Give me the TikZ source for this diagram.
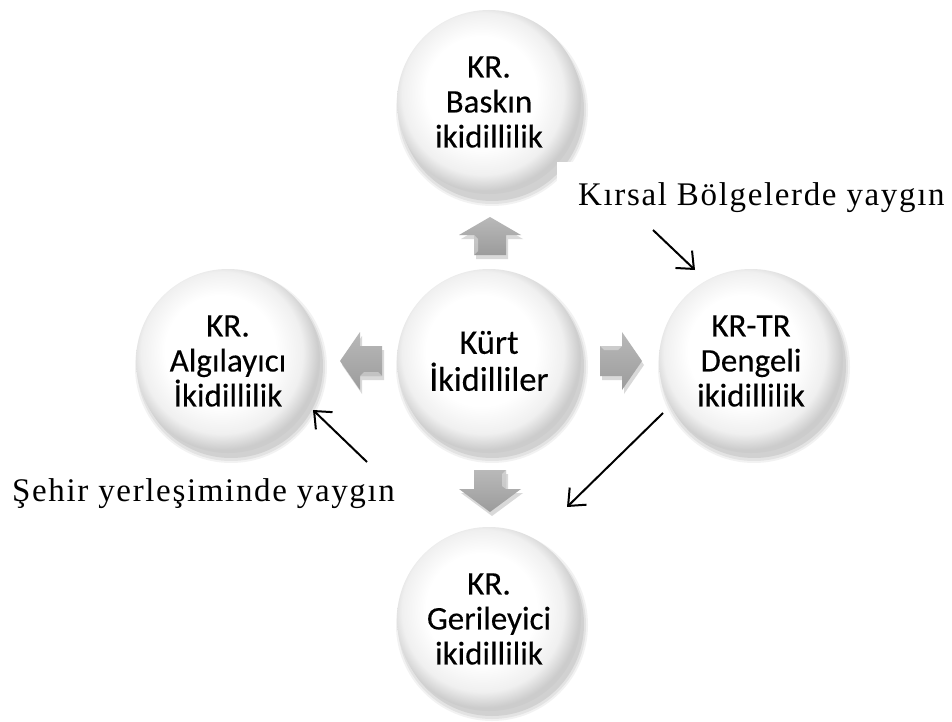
\documentclass[tikz,border=0pt]{standalone}
\usepackage{fontspec}
\setmainfont{Liberation Serif}
\newfontfamily\calib[FakeBold=0.25]{Carlito}
\usetikzlibrary{arrows.meta,calc}
\pgfdeclareradialshading{bubble}{\pgfpoint{-3bp}{4bp}}{color(0bp)=(white); color(15bp)=(white); color(22bp)=(gray!12); color(26bp)=(gray!40); color(50bp)=(gray!40)}
\newcommand\softshadow[2]{%
  \fill[black,opacity=0.05] (#1+3,#2+6) circle (96pt);
  \fill[black,opacity=0.06] (#1+3,#2+6) circle (94pt);
  \fill[black,opacity=0.08] (#1+3,#2+5) circle (92pt);
}
\begin{document}
\begin{tikzpicture}[x=1pt,y=-1pt,
  bubble/.style={circle, minimum size=184pt, inner sep=0pt, shading=bubble, align=center,
    font=\calib\fontsize{33}{35}\selectfont},
  centerbubble/.style={bubble, font=\calib\fontsize{34.5}{37}\selectfont},
  barrow/.style={top color=gray!55, bottom color=gray!78},
  bevel/.style={fill=white, opacity=0.35},
  bshadow/.style={fill=black, opacity=0.15},
  note/.style={font=\fontsize{33}{40}\selectfont\addfontfeature{LetterSpace=5}},
  thinarrow/.style={line width=2pt, -{Straight Barb[length=14pt,width=24pt,line width=2pt]}}
]
\useasboundingbox (0,0) rectangle (952,722);
\fill[white] (0,0) rectangle (952,722);

% shadows
\softshadow{489}{104}
\softshadow{489}{361}
\softshadow{228}{361}
\softshadow{751}{361}
\softshadow{489}{619}

% circles
\node[bubble] (top) at (489,102) {KR.\\Baskın\\ikidillilik};
\node[centerbubble] (mid) at (489,361) {Kürt\\İkidilliler};
\node[bubble] (left) at (228,361) {KR.\\Algılayıcı\\İkidillilik};
\node[bubble] (right) at (751,361) {KR-TR\\Dengeli\\ikidillilik};
\node[bubble] (bottom) at (489,619) {KR.\\Gerileyici\\ikidillilik};

% block arrow shadows
\begin{scope}[shift={(2,4)}]
\fill[bshadow] (490,217) -- (521,235) -- (506,235) -- (506,255) -- (474,255) -- (474,235) -- (459,235) -- cycle;
\fill[bshadow] (490,512) -- (521,489) -- (506,489) -- (506,470) -- (474,470) -- (474,489) -- (459,489) -- cycle;
\fill[bshadow] (340,361) -- (360,332) -- (360,346) -- (382,346) -- (382,376) -- (360,376) -- (360,390) -- cycle;
\fill[bshadow] (642,361) -- (622,332) -- (622,346) -- (600,346) -- (600,376) -- (622,376) -- (622,390) -- cycle;
\end{scope}
% block arrows
\path[barrow] (490,217) -- (521,235) -- (506,235) -- (506,255) -- (474,255) -- (474,235) -- (459,235) -- cycle;
\path[barrow] (490,512) -- (521,489) -- (506,489) -- (506,470) -- (474,470) -- (474,489) -- (459,489) -- cycle;
\path[barrow] (340,361) -- (360,332) -- (360,346) -- (382,346) -- (382,376) -- (360,376) -- (360,390) -- cycle;
\path[barrow] (642,361) -- (622,332) -- (622,346) -- (600,346) -- (600,376) -- (622,376) -- (622,390) -- cycle;
% bevel highlights
\fill[bevel] (474,235) -- (478,239) -- (478,251) -- (474,255) -- cycle;
\fill[bevel] (506,470) -- (502,474) -- (502,486) -- (506,489) -- cycle;
\fill[bevel] (360,376) -- (364,372) -- (378,372) -- (382,376) -- cycle;
\fill[bevel] (600,346) -- (604,350) -- (618,350) -- (622,346) -- cycle;

% notes
\node[note, anchor=base west, fill=white, inner xsep=21pt, inner ysep=0pt, text height=43pt, text depth=14pt] (kirsal) at (557,205) {Kırsal Bölgelerde yaygın};
\node[note, anchor=base west, inner sep=0pt] (sehir) at (12,501) {Şehir yerleşiminde yaygın};

% thin arrows
\coordinate (k1) at (653,230);
\coordinate (k2) at (695,270);
\coordinate (s1) at (367,462);
\coordinate (s2) at (313,410);
\coordinate (r1) at (663,413);
\coordinate (r2) at (567,507);
\draw[thinarrow] (k1) -- (k2);
\draw[thinarrow] (s1) -- (s2);
\draw[thinarrow] (r1) -- (r2);
\end{tikzpicture}
\end{document}
